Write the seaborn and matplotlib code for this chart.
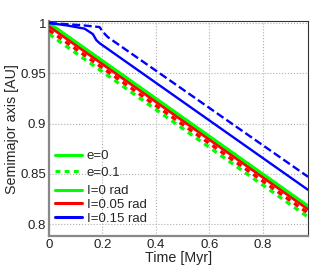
import matplotlib
matplotlib.use("Agg")
import matplotlib.pyplot as plt
import seaborn as sns
import pandas as pd
from matplotlib.lines import Line2D

# Data (Time [Myr], semimajor axis [AU])
t_lin = [0.0, 0.97]
a_green_e0 = [1.000, 0.818]
a_green_e01 = [0.989, 0.807]
a_red_e0 = [0.997, 0.815]
a_red_e01 = [0.993, 0.811]

t_blue_e0 = [0.0, 0.065, 0.133, 0.164, 0.177, 0.189, 0.97]
a_blue_e0 = [1.000, 0.9977, 0.9944, 0.989, 0.983, 0.980, 0.834]
t_blue_e01 = [0.0, 0.127, 0.189, 0.202, 0.22, 0.97]
a_blue_e01 = [1.000, 0.9977, 0.996, 0.991, 0.986, 0.847]

xticks = [0, 0.2, 0.4, 0.6, 0.8]
xticklabels = ["0", "0.2", "0.4", "0.6", "0.8"]
yticks = [0.8, 0.85, 0.9, 0.95, 1.0]
yticklabels = ["0.8", "0.85", "0.9", "0.95", "1"]

sns.set_style("white")
plt.rcParams['font.family'] = ['Liberation Sans', 'DejaVu Sans']

fig = plt.figure(figsize=(3.36, 2.73), dpi=100)
ax = fig.add_axes([0.146, 0.135, 0.771, 0.788])

GREEN = "#00ff00"
RED = "#ff0000"
BLUE = "#0000ff"

def draw(t, a, color, dashes, lw, z):
    df = pd.DataFrame({"t": t, "a": a})
    sns.lineplot(data=df, x="t", y="a", ax=ax, color=color, lw=lw, zorder=z)
    line = ax.lines[-1]
    if dashes is not None:
        line.set_dashes(dashes)
    return line

draw(t_lin, a_green_e01, GREEN, [1.6, 1.4], 2.4, 2)
draw(t_lin, a_red_e01, RED, [1.6, 1.4], 2.4, 3)
draw(t_lin, a_red_e0, RED, None, 2.4, 3)
draw(t_lin, a_green_e0, GREEN, None, 2.2, 4)
draw(t_blue_e01, a_blue_e01, BLUE, [3.4, 1.5], 1.7, 5)
draw(t_blue_e0, a_blue_e0, BLUE, None, 1.7, 5)

ax.set_xlim(0, 0.97)
ax.set_ylim(0.788, 1.002)
ax.set_xticks(xticks)
ax.set_xticklabels(xticklabels)
ax.set_yticks(yticks)
ax.set_yticklabels(yticklabels)
ax.tick_params(direction="in", length=3, labelsize=9.5, pad=2, colors="#222222")
ax.grid(True, linestyle=":", color="#b0b0b0", lw=0.8)
ax.set_axisbelow(True)
for s in ["top", "right"]:
    ax.spines[s].set_color("#333333")
    ax.spines[s].set_linewidth(0.8)
for s in ["left", "bottom"]:
    ax.spines[s].set_color("#888888")
    ax.spines[s].set_linewidth(1.6)

ax.set_xlabel("Time [Myr]", fontsize=10.3, labelpad=0)
ax.set_ylabel("Semimajor axis [AU]", fontsize=10.3, labelpad=1)

h1 = [Line2D([], [], color=GREEN, lw=2.2),
      Line2D([], [], color=GREEN, lw=2.2, dashes=[1.6, 1.4])]
leg1 = ax.legend(h1, ["e=0", "e=0.1"], loc="lower left",
                 bbox_to_anchor=(-0.012, 0.225), frameon=False, fontsize=9.5,
                 handlelength=2.0, handletextpad=0.4, labelspacing=0.3,
                 borderaxespad=0.3)
ax.add_artist(leg1)
h2 = [Line2D([], [], color=GREEN, lw=2.2),
      Line2D([], [], color=RED, lw=2.2),
      Line2D([], [], color=BLUE, lw=2.2)]
ax.legend(h2, ["I=0 rad", "I=0.05 rad", "I=0.15 rad"], loc="lower left",
          bbox_to_anchor=(-0.012, 0.011), frameon=False, fontsize=9.5,
          handlelength=2.0, handletextpad=0.4, labelspacing=0.1,
          borderaxespad=0.3)

fig.savefig("out.png", dpi=100)
